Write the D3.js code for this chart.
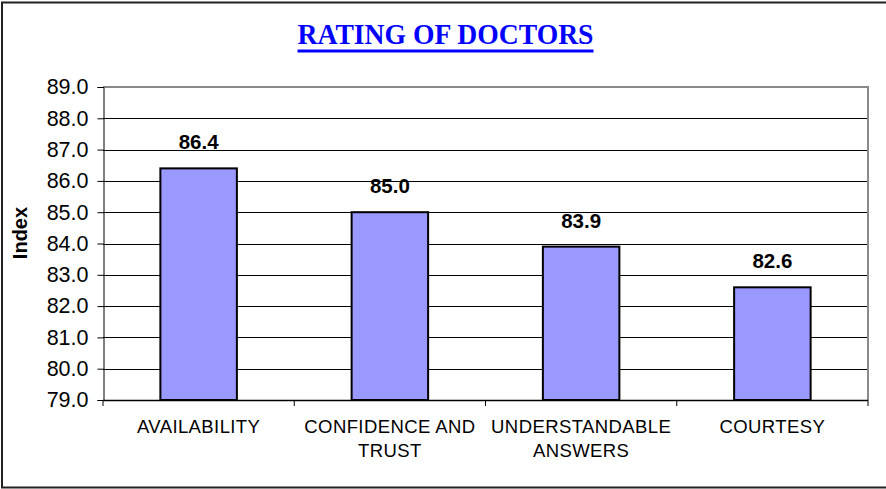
<!DOCTYPE html>
<html>
<head>
<meta charset="utf-8">
<script src="https://cdn.jsdelivr.net/npm/d3@7"></script>
<style>
  html, body { margin: 0; padding: 0; background: #fff; }
  svg { display: block; font-family: Arial, "Liberation Sans", sans-serif; }
</style>
</head>
<body>
<svg id="chart" width="886" height="489"></svg>
<script>
const categories = ["AVAILABILITY", "CONFIDENCE AND TRUST", "UNDERSTANDABLE ANSWERS", "COURTESY"];
const values = [86.4, 85.0, 83.9, 82.6];
const yTicks = [79, 80, 81, 82, 83, 84, 85, 86, 87, 88, 89];
const titleText = "RATING OF DOCTORS";
const yAxisTitle = "Index";

const svg = d3.select("#chart");
const plot = { left: 103, right: 868, top: 87, bottom: 400 };
const sans = "Arial, 'Liberation Sans', sans-serif";

// outer frame (right edge is cut off in the reference)
svg.append("rect").attr("x", 2).attr("y", 2.5).attr("width", 900).attr("height", 485)
  .attr("fill", "#fff").attr("stroke", "#222").attr("stroke-width", 2);

const x = d3.scaleBand().domain(categories).range([plot.left, plot.right])
  .paddingInner(0.6).paddingOuter(0.3);
const y = d3.scaleLinear().domain([79, 89]).range([plot.bottom, plot.top]);

// gridlines
svg.append("g").selectAll("line").data(yTicks.filter(t => t > 79 && t < 89)).join("line")
  .attr("x1", plot.left).attr("x2", plot.right)
  .attr("y1", d => Math.round(y(d)) + 0.5).attr("y2", d => Math.round(y(d)) + 0.5)
  .attr("stroke", "#000").attr("stroke-width", 1);

// plot area border top/right (gray)
svg.append("path")
  .attr("d", `M${plot.left},${y(89)}H${plot.right}V${plot.bottom}`)
  .attr("fill", "none").attr("stroke", "#8a8a8a").attr("stroke-width", 2);

// bars
svg.append("g").selectAll("rect").data(values).join("rect")
  .attr("x", (d, i) => x(categories[i]))
  .attr("y", d => y(d))
  .attr("width", x.bandwidth())
  .attr("height", d => y(79) - y(d))
  .attr("fill", "#9999FF").attr("stroke", "#000").attr("stroke-width", 2);

// value labels
svg.append("g").selectAll("text").data(values).join("text")
  .attr("x", (d, i) => x(categories[i]) + x.bandwidth() / 2)
  .attr("y", d => y(d) - 19)
  .attr("text-anchor", "middle")
  .style("font-family", sans)
  .attr("font-weight", "bold").attr("font-size", 20.5)
  .attr("fill", "#000")
  .text(d => d.toFixed(1));

// y axis
const yAxis = d3.axisLeft(y).tickValues(yTicks).tickFormat(d3.format(".1f")).tickSize(6).tickPadding(9);
const gy = svg.append("g").attr("transform", `translate(${plot.left + 0.5},0)`).call(yAxis);
gy.select(".domain").attr("stroke", "#000");
gy.selectAll(".tick line").attr("stroke", "#000");
gy.selectAll(".tick text").attr("font-size", 21.5).style("font-family", sans).attr("fill", "#000");

// x axis (ticks at category boundaries)
const step = x.step();
const boundaries = d3.range(categories.length + 1).map(i => plot.left + i * step);
svg.append("line").attr("x1", plot.left).attr("x2", plot.right)
  .attr("y1", plot.bottom + 0.5).attr("y2", plot.bottom + 0.5)
  .attr("stroke", "#000").attr("stroke-width", 1.5);
svg.append("g").selectAll("line").data(boundaries).join("line")
  .attr("x1", d => d).attr("x2", d => d)
  .attr("y1", plot.bottom).attr("y2", plot.bottom + 6)
  .attr("stroke", "#000");

// x labels with wrapping
const xl = svg.append("g");
const xFont = 18.5, xSpacing = 0.4;
categories.forEach(c => {
  const cx = x(c) + x.bandwidth() / 2;
  const t = xl.append("text")
    .attr("text-anchor", "middle").attr("font-size", xFont).style("font-family", sans)
    .attr("letter-spacing", xSpacing).attr("fill", "#000")
    .attr("x", cx).attr("y", 433);
  const words = c.split(" ");
  let line = [], lines = [];
  const probe = svg.append("text").attr("font-size", xFont).attr("letter-spacing", xSpacing).style("font-family", sans);
  words.forEach(w => {
    const trial = line.concat([w]).join(" ");
    probe.text(trial);
    if (probe.node().getComputedTextLength() > 185 && line.length) {
      lines.push(line.join(" ")); line = [w];
    } else line.push(w);
  });
  lines.push(line.join(" "));
  probe.remove();
  lines.forEach((l, i) => {
    t.append("tspan").attr("x", cx).attr("dy", i === 0 ? 0 : 24).text(l);
  });
});

// y axis title
svg.append("text")
  .attr("transform", `translate(27,233) rotate(-90)`)
  .attr("text-anchor", "middle")
  .style("font-family", sans)
  .attr("font-weight", "bold").attr("font-size", 20)
  .attr("fill", "#000")
  .text(yAxisTitle);

// title
svg.append("text")
  .attr("x", 445.5).attr("y", 43.5)
  .attr("text-anchor", "middle")
  .style("font-family", "'Liberation Serif', 'DejaVu Serif', serif")
  .attr("font-weight", "bold").attr("font-size", 28.5)
  .attr("fill", "#0000FF")
  .attr("textLength", 296).attr("lengthAdjust", "spacingAndGlyphs")
  .text(titleText);
svg.append("rect").attr("x", 297.5).attr("y", 49.5).attr("width", 296).attr("height", 3)
  .attr("fill", "#0000FF");
</script>
</body>
</html>
